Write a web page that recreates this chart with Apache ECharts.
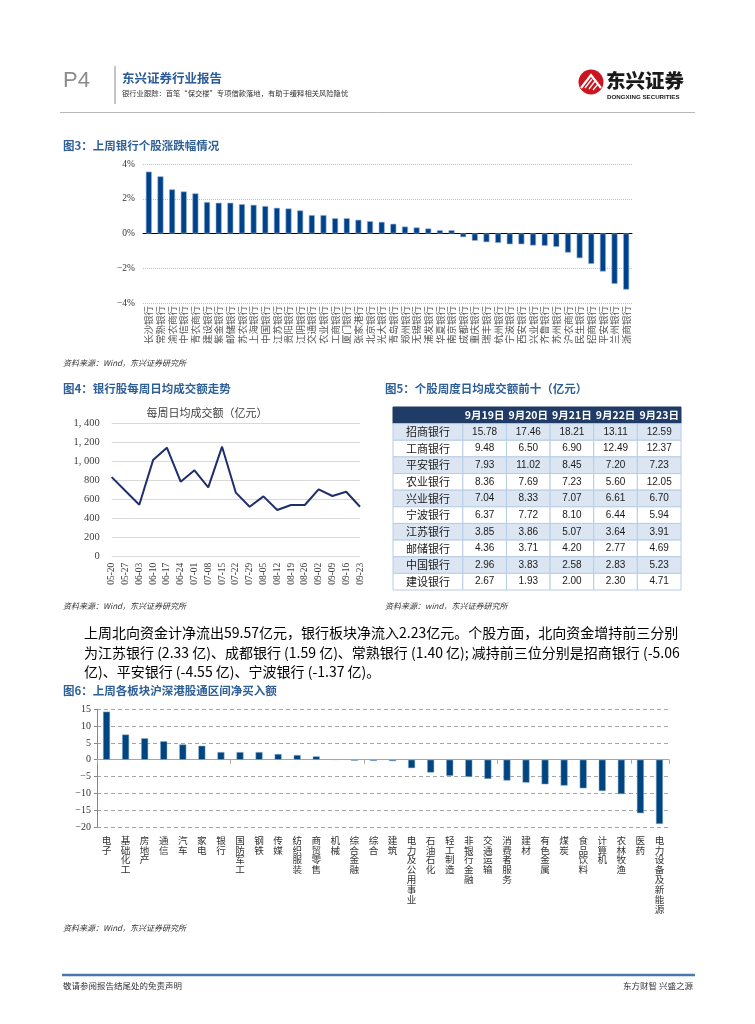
<!DOCTYPE html>
<html><head><meta charset="utf-8">
<script src="https://cdn.jsdelivr.net/npm/echarts@6/dist/echarts.min.js"></script>
<style>html,body{margin:0;padding:0;background:#fff}#c{width:755px;height:1024px}</style>
</head><body><div id="c"></div><script>
// ---------- Figure 3 data ----------
const banks3 = ['长沙银行','常熟银行','渝农商行','中信银行','青农商行','建设银行','紫金银行','邮储银行','苏农银行','上海银行','中国银行','江苏银行','贵阳银行','江阴银行','交通银行','农业银行','工商银行','厦门银行','张家港行','北京银行','光大银行','青岛银行','郑州银行','无锡银行','浦发银行','华夏银行','南京银行','成都银行','重庆银行','瑞丰银行','杭州银行','宁波银行','西安银行','兴业银行','齐鲁银行','苏州银行','沪农商行','民生银行','招商银行','平安银行','兰州银行','浙商银行'];
const change3 = [3.56,3.29,2.54,2.42,2.31,1.81,1.77,1.77,1.69,1.65,1.58,1.48,1.44,1.33,1.06,1.06,0.88,0.88,0.79,0.71,0.67,0.56,0.40,0.35,0.29,0.19,0.19,-0.21,-0.42,-0.50,-0.54,-0.62,-0.62,-0.69,-0.71,-0.77,-1.10,-1.42,-1.75,-2.19,-2.90,-3.23];

// ---------- Figure 4 data ----------
const weeks4 = ['05-20','05-27','06-03','06-10','06-17','06-24','07-01','07-08','07-15','07-22','07-29','08-05','08-12','08-19','08-26','09-02','09-09','09-16','09-23'];
const turnover4 = [838,692,547,1017,1147,789,909,730,1158,674,526,635,491,544,544,709,639,684,526];

// ---------- Figure 5 data ----------
const tableDates5 = ['9月19日','9月20日','9月21日','9月22日','9月23日'];
const tableBanks5 = ['招商银行','工商银行','平安银行','农业银行','兴业银行','宁波银行','江苏银行','邮储银行','中国银行','建设银行'];
const d0919 = [15.78,9.48,7.93,8.36,7.04,6.37,3.85,4.36,2.96,2.67];
const d0920 = [17.46,6.50,11.02,7.69,8.33,7.72,3.86,3.71,3.83,1.93];
const d0921 = [18.21,6.90,8.45,7.23,7.07,8.10,5.07,4.20,2.58,2.00];
const d0922 = [13.11,12.49,7.20,5.60,6.61,6.44,3.64,2.77,2.83,2.30];
const d0923 = [12.59,12.37,7.23,12.05,6.70,5.94,3.91,4.69,5.23,4.71];

// ---------- Figure 6 data ----------
const sectors6 = ['电子','基础化工','房地产','通信','汽车','家电','银行','国防军工','钢铁','传媒','纺织服装','商贸零售','机械','综合金融','综合','建筑','电力及公用事业','石油石化','轻工制造','非银行金融','交通运输','消费者服务','建材','有色金属','煤炭','食品饮料','计算机','农林牧渔','医药','电力设备及新能源'];
const netBuy6 = [14.3,7.5,6.4,5.5,4.55,4.16,2.28,2.28,2.28,1.7,1.4,1.0,0.1,-0.3,-0.35,-0.4,-2.5,-3.8,-4.8,-5.1,-5.7,-6.2,-6.8,-7.3,-7.7,-8.5,-9.3,-10.2,-15.9,-19.1];

// ---------- text ----------
const para = [
  '上周北向资金计净流出59.57亿元，银行板块净流入2.23亿元。个股方面，北向资金增持前三分别',
  '为江苏银行 (2.33 亿)、成都银行 (1.59 亿)、常熟银行 (1.40 亿); 减持前三位分别是招商银行 (-5.06',
  '亿)、平安银行 (-4.55 亿)、宁波银行 (-1.37 亿)。'
];

const CJK = '"Noto Sans CJK SC"';
function T(text, x, y, font, fill, align) {
  return {type:'text', x:x, y:y, silent:true, style:{text:text, font:font, fill:fill||'#000',
    textAlign:align||'left', align:align||'left', textVerticalAlign:'middle', verticalAlign:'middle'}};
}
function L(x1,y1,x2,y2,stroke,w){
  return {type:'line', silent:true, shape:{x1,y1,x2,y2}, style:{stroke:stroke, lineWidth:w||1}};
}

// table cells
const dayCols = [d0919,d0920,d0921,d0922,d0923];
const cells = [[0,0,'']];
tableDates5.forEach((d,i)=>cells.push([i+1,0,d]));
tableBanks5.forEach((b,r)=>{
  cells.push([0,r+1,b]);
  dayCols.forEach((col,i)=>cells.push([i+1,r+1,col[r].toFixed(2)]));
});
const colW = [1.6,1,1,1,1,1];
function colStart(c){let s=0;for(let i=0;i<c;i++)s+=colW[i];return s;}

const titleColor = '#2E5F97';
const titleFont = 'bold 11.5px ' + CJK;
const srcFont = 'italic 8px ' + CJK;
const paraFont = '14px ' + CJK;

const graphics = [
  // header
  T('P4', 63, 81, '22px "Liberation Sans"', '#8C8C8C'),
  L(115, 66, 115, 104, '#8C8C8C', 1),
  T('东兴证券行业报告', 122, 78, 'bold 12.5px ' + CJK, '#2B5C99'),
  T('银行业跟踪：首笔“保交楼”专项借款落地，有助于缓释相关风险隐忧', 122, 93, '7.3px ' + CJK, '#333'),
  {type:'circle', silent:true, shape:{cx:591, cy:82, r:12.5}, style:{fill:'#C9161F'}},
  {type:'polyline', silent:true, shape:{points:[[581,88],[591,75],[601,88]]}, style:{stroke:'#fff', lineWidth:2.2, fill:null}},
  L(585, 88, 592, 79, '#fff', 1.3),
  L(589, 89, 595, 81, '#fff', 1.3),
  L(593, 90, 598, 84, '#fff', 1.3),
  T('东兴证券', 606, 81, '900 19.5px ' + CJK, '#1a1a1a'),
  T('DONGXING SECURITIES', 607, 97, 'bold 6.2px "Liberation Sans"', '#1a1a1a'),
  L(60, 112.5, 695, 112.5, '#A6A6A6', 0.8),
  // figure titles
  T('图3：上周银行个股涨跌幅情况', 63, 146, titleFont, titleColor),
  T('资料来源：Wind，东兴证券研究所', 63, 363, srcFont, '#333'),
  T('图4：银行股每周日均成交额走势', 63, 389, titleFont, titleColor),
  T('每周日均成交额（亿元）', 207, 413, '11px ' + CJK, '#404040', 'center'),
  T('资料来源：Wind，东兴证券研究所', 63, 606, srcFont, '#333'),
  T('图5：个股周度日均成交额前十（亿元）', 385, 389, titleFont, titleColor),
  T('资料来源：wind，东兴证券研究所', 385, 606, srcFont, '#333'),
  T('图6：上周各板块沪深港股通区间净买入额', 63, 691, titleFont, titleColor),
  T('资料来源：Wind，东兴证券研究所', 63, 928, srcFont, '#333'),
  // paragraph
  T(para[0], 84, 633, paraFont, '#000'),
  T(para[1], 84, 652.5, paraFont, '#000'),
  T(para[2], 84, 672, paraFont, '#000'),
  // footer
  L(62, 975, 695, 975, '#4A78AE', 2.5),
  T('敬请参阅报告结尾处的免责声明', 63, 986, '8.5px ' + CJK, '#333'),
  T('东方财智 兴盛之源', 693, 986, '8.5px ' + CJK, '#333', 'right')
];

const chart = echarts.init(document.getElementById('c'), null, {renderer:'canvas'});
chart.setOption({
  animation:false,
  backgroundColor:'#fff',
  grid:[
    {left:143, top:164, width:489, height:139},
    {left:111.7, top:423.7, width:248.3, height:133},
    {left:393, top:407, width:288, height:183},
    {left:97, top:709.3, width:572, height:117.7}
  ],
  xAxis:[
    {gridIndex:0, type:'category', data:banks3, position:'bottom',
      axisLine:{show:false, onZero:false}, axisTick:{show:false},
      axisLabel:{rotate:90, interval:0, fontSize:9.5, fontFamily:CJK, color:'#555', margin:3}},
    {gridIndex:0, type:'category', data:banks3, position:'bottom',
      axisLine:{show:true, onZero:true, lineStyle:{color:'#000', width:1}}, axisTick:{show:false}, axisLabel:{show:false}},
    {gridIndex:1, type:'category', data:weeks4, boundaryGap:false,
      axisLine:{show:false}, axisTick:{show:false},
      axisLabel:{rotate:90, interval:0, fontSize:9.5, fontFamily:'"Liberation Serif"', color:'#404040', margin:6}},
    {gridIndex:2, type:'value', min:0, max:6.6, show:false},
    {gridIndex:3, type:'category', data:sectors6, position:'bottom',
      axisLine:{show:false, onZero:false}, axisTick:{show:false},
      axisLabel:{interval:0, fontSize:9.6, lineHeight:9.9, fontFamily:CJK, color:'#333', margin:8,
        formatter:v=>v.split('').join('\n')}},
    {gridIndex:3, type:'category', data:sectors6, position:'bottom',
      axisLine:{show:true, onZero:true, lineStyle:{color:'#A6A6A6', width:1}},
      axisTick:{show:true, length:4, lineStyle:{color:'#A6A6A6'}}, axisLabel:{show:false}}
  ],
  yAxis:[
    {gridIndex:0, type:'value', min:-4, max:4, interval:2,
      axisLine:{show:false}, axisTick:{show:false},
      axisLabel:{formatter:v=>(v<0?'−'+(-v):v)+'%', fontSize:9.5, fontFamily:'"Liberation Serif"', color:'#333', margin:8},
      splitLine:{lineStyle:{color:'#BFBFBF', type:'dotted', width:1}}},
    {gridIndex:1, type:'value', min:0, max:1400, interval:200,
      axisLine:{show:false}, axisTick:{show:false},
      axisLabel:{formatter:v=>v>=1000?('1, '+String(v).slice(1)):String(v), fontSize:10.5, fontFamily:'"Liberation Serif"', color:'#404040', margin:12},
      splitLine:{lineStyle:{color:'#D9D9D9', width:1}}},
    {gridIndex:2, type:'value', min:0, max:11, inverse:true, show:false},
    {gridIndex:3, type:'value', min:-20, max:15, interval:5,
      axisLine:{show:true, lineStyle:{color:'#868686'}}, axisTick:{show:true, length:3, lineStyle:{color:'#868686'}},
      axisLabel:{formatter:v=>v<0?'−'+(-v):String(v), fontSize:10, fontFamily:'"Liberation Serif"', color:'#333', margin:6},
      splitLine:{lineStyle:{color:'#A6A6A6', type:[4,3], width:1}}}
  ],
  series:[
    {type:'bar', xAxisIndex:0, yAxisIndex:0, data:change3, barWidth:6,
      itemStyle:{color:'#00428A', borderColor:'#9CB6D6', borderWidth:0.6}},
    {type:'line', xAxisIndex:2, yAxisIndex:1, data:turnover4, symbol:'none',
      lineStyle:{color:'#1F2E6C', width:2}},
    {type:'custom', xAxisIndex:3, yAxisIndex:2, data:cells.map(c=>[c[0],c[1]]),
      renderItem:function(params, api){
        const cell = cells[params.dataIndex];
        const c = cell[0], r = cell[1];
        const a = api.coord([colStart(c), r]);
        const b = api.coord([colStart(c)+colW[c], r+1]);
        const x = a[0], y = Math.min(a[1], b[1]), w = b[0]-a[0], h = Math.abs(b[1]-a[1]);
        const head = r === 0;
        const fill = head ? '#1F3B66' : (r % 2 === 1 ? '#DCE6F2' : '#FFFFFF');
        const font = head ? ('bold 10.5px ' + CJK) : (c === 0 ? ('11px ' + CJK) : '10px "Liberation Sans"');
        return {type:'group', children:[
          {type:'rect', shape:{x:x, y:y, width:w, height:h},
            style:{fill:fill, stroke: head ? '#1F3B66' : '#B8CCE4', lineWidth:1}},
          {type:'text', style:{text:cell[2], x:x+w/2, y:y+h/2, align:'center', verticalAlign:'middle',
            textAlign:'center', textVerticalAlign:'middle', fill: head ? '#fff' : '#1a1a1a', font:font}}
        ]};
      }},
    {type:'bar', xAxisIndex:4, yAxisIndex:3, data:netBuy6, barWidth:7,
      itemStyle:{color:'#00457F', borderColor:'#8FB0D3', borderWidth:0.5}}
  ],
  graphic:graphics
});
</script></body></html>
